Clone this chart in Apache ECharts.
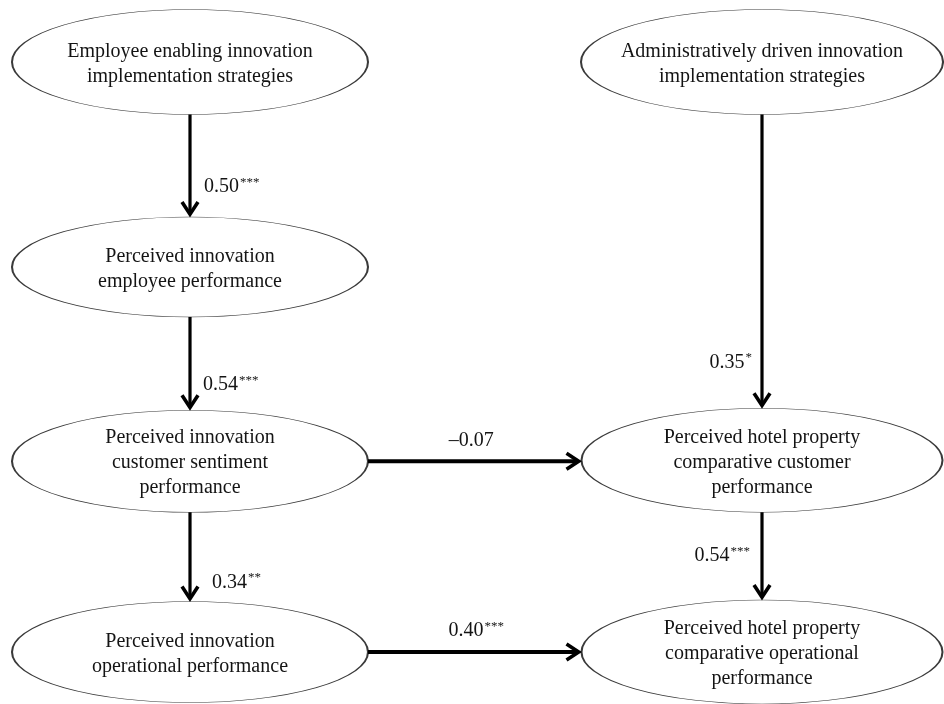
<!DOCTYPE html>
<html>
<head>
<meta charset="utf-8">
<script src="https://cdn.jsdelivr.net/npm/echarts@6/dist/echarts.min.js"></script>
<style>
  html, body { margin: 0; padding: 0; background: #fff; }
  #chart { width: 944px; height: 704px; }
</style>
</head>
<body>
<div id="chart"></div>
<script>
// ---- data ----
const nodeNames = [
  'Employee enabling innovation\nimplementation strategies',
  'Administratively driven innovation\nimplementation strategies',
  'Perceived innovation\nemployee performance',
  'Perceived innovation\ncustomer sentiment\nperformance',
  'Perceived hotel property\ncomparative customer\nperformance',
  'Perceived innovation\noperational performance',
  'Perceived hotel property\ncomparative operational\nperformance'
];
const edgeSource = [0, 2, 3, 1, 3, 4, 5];
const edgeTarget = [2, 3, 5, 4, 4, 6, 6];
const edgeCoef   = ['0.50', '0.54', '0.34', '0.35', '\u20130.07', '0.54', '0.40'];
const edgeSig    = ['***', '***', '**', '*', '', '***', '***'];

// ---- layout (diagram grid: column / row positions, ellipse sizes) ----
const nodeCol  = [0, 1, 0, 0, 1, 0, 1];
const nodeRow  = [0, 0, 1.042, 2.03, 2.025, 3, 3];
const nodeSize = [[356, 105], [362, 105], [356, 100], [356, 102], [361, 104], [356, 101], [361, 104]];
// label offset relative to arrow tip (vertical) or arrow midpoint (horizontal)
const labelOffset = [[14, -29, 'left'], [13, -24, 'left'], [22, -18, 'left'], [-10, -45, 'right'],
                     [-3, -20, 'center'], [-12, -43, 'right'], [2, -21, 'center']];

const FONT = '"Liberation Serif", "Times New Roman", serif';
const chart = echarts.init(document.getElementById('chart'), null, { renderer: 'canvas' });

const option = {
  backgroundColor: '#ffffff',
  animation: false,
  grid: { left: 190, right: 182, top: 62, bottom: 52 },
  xAxis: { type: 'value', min: 0, max: 1, show: false },
  yAxis: { type: 'value', min: 0, max: 3, inverse: true, show: false },
  series: [
    {
      type: 'scatter',
      z: 2,
      symbol: 'circle',
      data: nodeNames.map((n, i) => ({
        name: n,
        value: [nodeCol[i], nodeRow[i]],
        symbolSize: nodeSize[i]
      })),
      itemStyle: { color: '#ffffff', borderColor: '#3a3a3a', borderWidth: 1.1, opacity: 1 },
      label: {
        show: true,
        position: 'inside',
        formatter: '{b}',
        fontFamily: FONT,
        fontSize: 20,
        lineHeight: 25,
        color: '#141414',
        offset: [0, 2]
      },
      emphasis: { disabled: true },
      silent: true
    },
    {
      type: 'custom',
      z: 3,
      clip: false,
      silent: true,
      data: edgeSource.map((s) => [nodeCol[s], nodeRow[s]]),
      renderItem: function (params, api) {
        const i = params.dataIndex;
        const s = edgeSource[i], t = edgeTarget[i];
        const p1 = api.coord([nodeCol[s], nodeRow[s]]);
        const p2 = api.coord([nodeCol[t], nodeRow[t]]);
        const horiz = Math.abs(p2[1] - p1[1]) < 5;
        let a, b;
        if (horiz) {
          a = [p1[0] + nodeSize[s][0] / 2, p1[1]];
          b = [p2[0] - nodeSize[t][0] / 2 - 1, p1[1]];
        } else {
          a = [p1[0], p1[1] + nodeSize[s][1] / 2];
          b = [p2[0], p2[1] - nodeSize[t][1] / 2 - 1];
        }
        const dx = b[0] - a[0], dy = b[1] - a[1];
        const L = Math.hypot(dx, dy);
        const ux = dx / L, uy = dy / L, nx = -uy, ny = ux;
        const hl = 14, hw = 8;
        const lw = horiz ? 4 : 3.2;
        const off = labelOffset[i];
        const anchor = horiz ? [(a[0] + b[0]) / 2, a[1]] : b;
        let txt = '{n|' + edgeCoef[i] + '}';
        if (edgeSig[i]) txt += '{s|' + edgeSig[i] + '}';
        return {
          type: 'group',
          children: [
            {
              type: 'line',
              shape: { x1: a[0], y1: a[1], x2: b[0] - ux * 3, y2: b[1] - uy * 3 },
              style: { stroke: '#000', lineWidth: lw }
            },
            {
              type: 'polyline',
              shape: {
                points: [
                  [b[0] - ux * hl + nx * hw, b[1] - uy * hl + ny * hw],
                  [b[0] - ux * 1.8, b[1] - uy * 1.8],
                  [b[0] - ux * hl - nx * hw, b[1] - uy * hl - ny * hw]
                ]
              },
              style: { stroke: '#000', fill: null, lineWidth: 3.6, lineJoin: 'miter' }
            },
            {
              type: 'text',
              x: anchor[0] + off[0],
              y: anchor[1] + off[1],
              style: {
                text: txt,
                align: off[2],
                verticalAlign: 'middle',
                fontFamily: FONT,
                fontSize: 20,
                fill: '#141414',
                rich: {
                  n: { fontFamily: FONT, fontSize: 20, lineHeight: 22, fill: '#141414' },
                  s: { fontFamily: FONT, fontSize: 13, lineHeight: 22, fill: '#141414', verticalAlign: 'top', padding: [0, 0, 0, 1] }
                }
              }
            }
          ]
        };
      }
    }
  ]
};
chart.setOption(option);
</script>
</body>
</html>
